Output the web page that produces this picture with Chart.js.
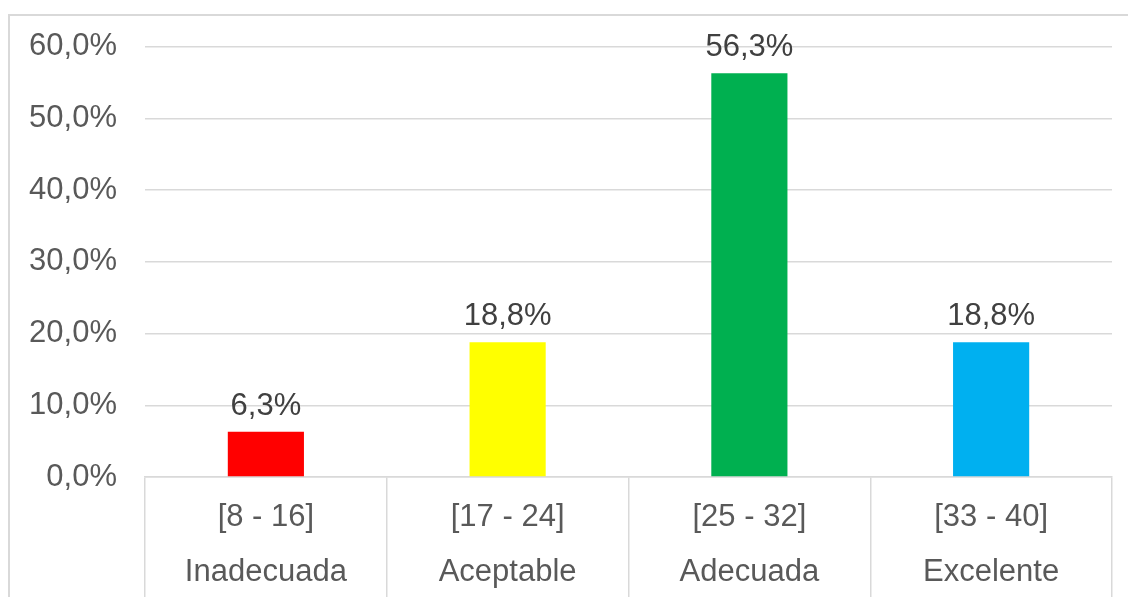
<!DOCTYPE html>
<html lang="es">
<head>
    <meta charset="UTF-8">
    <title>Distribución por niveles</title>
    <script src="https://cdn.jsdelivr.net/npm/chart.js"></script>
    <style>
        html, body { margin: 0; padding: 0; background: #fff; overflow: hidden; }
        #marco {
            position: absolute; left: 8px; top: 14px;
            width: 1300px; height: 800px;
            border: 2px solid #d9d9d9;
        }
        #grafico { position: absolute; left: 0; top: 0; }
    </style>
</head>
<body>

    <div id="marco"></div>
    <canvas id="grafico" width="1128" height="597"></canvas>

    <script>
        // datos
        const rangos = ["[8 - 16]", "[17 - 24]", "[25 - 32]", "[33 - 40]"];
        const niveles = ["Inadecuada", "Aceptable", "Adecuada", "Excelente"];
        const porcentajes = [6.3, 18.8, 56.3, 18.8];
        const colores = ["#ff0000", "#ffff00", "#00b050", "#00b0f0"];

        const etiquetas = rangos.map((r, i) => [r, niveles[i]]);
        const fuente = "'Liberation Sans', Arial, sans-serif";
        const gris = "#d9d9d9";

        const formato = v => v.toFixed(1).replace(".", ",") + "%";

        // etiquetas de datos encima de cada barra
        const etiquetasDatos = {
            id: "etiquetasDatos",
            afterDatasetsDraw(chart) {
                const ctx = chart.ctx;
                const meta = chart.getDatasetMeta(0);
                ctx.save();
                ctx.font = "31px " + fuente;
                ctx.fillStyle = "#404040";
                ctx.textAlign = "center";
                ctx.textBaseline = "alphabetic";
                meta.data.forEach((bar, i) => {
                    ctx.fillText(formato(porcentajes[i]), bar.x, bar.y - 17);
                });
                ctx.restore();
            }
        };

        new Chart(document.getElementById("grafico"), {
            type: "bar",
            data: {
                labels: etiquetas,
                datasets: [{
                    data: porcentajes,
                    backgroundColor: colores,
                    categoryPercentage: 1,
                    barPercentage: 0.315
                }]
            },
            options: {
                responsive: false,
                animation: false,
                layout: { padding: { top: 46, right: 16, bottom: 0, left: 0 } },
                plugins: {
                    legend: { display: false },
                    tooltip: { enabled: false }
                },
                scales: {
                    x: {
                        afterFit(scale) { scale.height = 120; },
                        border: { display: true, color: gris, width: 1.5 },
                        grid: {
                            offset: true,
                            drawOnChartArea: false,
                            drawTicks: true,
                            tickLength: 125,
                            color: gris,
                            lineWidth: 1.5
                        },
                        ticks: {
                            padding: -112,
                            maxRotation: 0,
                            autoSkip: false,
                            color: "#595959",
                            font: { family: fuente, size: 31, lineHeight: 1.77 }
                        }
                    },
                    y: {
                        min: 0,
                        max: 60,
                        afterFit(scale) { scale.width = 145; },
                        border: { display: false },
                        grid: { color: gris, lineWidth: 1.5, drawTicks: false },
                        ticks: {
                            stepSize: 10,
                            padding: 28,
                            color: "#595959",
                            font: { family: fuente, size: 31 },
                            callback: v => formato(v)
                        }
                    }
                }
            },
            plugins: [etiquetasDatos]
        });
    </script>

</body>
</html>
